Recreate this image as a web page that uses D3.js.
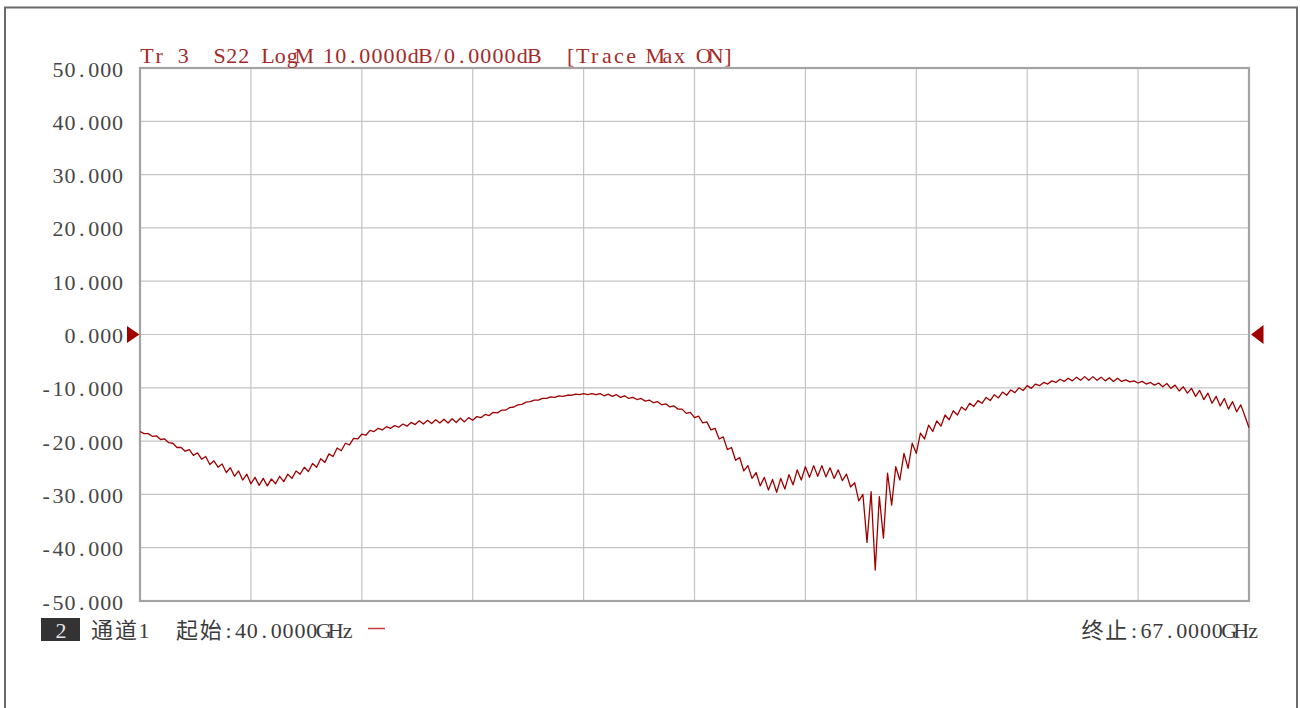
<!DOCTYPE html>
<html>
<head>
<meta charset="utf-8">
<script src="https://cdn.jsdelivr.net/npm/d3@7"></script>
<style>
  html, body { margin: 0; padding: 0; background: #fff; }
  svg { display: block; }
  text { white-space: pre; }
</style>
</head>
<body>
<svg id="chart" width="1300" height="708"></svg>
<script>
// ---------------- DATA ----------------
const startGHz = 40.0;
const stopGHz = 67.0;
// S22 LogM trace (dB), uniform sweep from startGHz to stopGHz, 0.1 GHz steps
const s22dB = [
  -18.2,-18.6,-18.6,-19.1,-19.0,-19.7,-19.6,-20.3,-20.4,-21.2,
  -21.2,-21.9,-21.6,-22.7,-22.2,-23.4,-22.9,-24.4,-23.7,-24.9,
  -24.3,-25.9,-25.0,-26.6,-25.6,-27.3,-26.2,-28.0,-26.8,-28.3,
  -27.0,-28.4,-27.1,-28.0,-26.6,-27.6,-26.2,-27.0,-25.6,-26.2,
  -24.9,-25.7,-24.2,-24.9,-23.3,-24.0,-22.4,-22.9,-21.3,-21.8,
  -20.4,-20.7,-19.5,-19.6,-18.7,-18.9,-18.0,-18.2,-17.6,-17.9,
  -17.3,-17.6,-17.1,-17.4,-16.8,-17.2,-16.5,-16.9,-16.2,-16.8,
  -16.1,-16.7,-16.0,-16.6,-15.9,-16.6,-15.8,-16.5,-15.7,-16.4,
  -15.6,-16.1,-15.4,-15.6,-15.0,-15.2,-14.6,-14.7,-14.2,-14.2,
  -13.7,-13.6,-13.2,-13.1,-12.7,-12.6,-12.3,-12.3,-12.0,-12.0,
  -11.7,-11.8,-11.5,-11.6,-11.4,-11.4,-11.2,-11.3,-11.1,-11.3,
  -11.1,-11.3,-11.1,-11.5,-11.2,-11.6,-11.3,-11.8,-11.5,-12.0,
  -11.8,-12.2,-12.0,-12.5,-12.3,-12.8,-12.6,-13.2,-13.0,-13.6,
  -13.4,-14.0,-14.0,-14.8,-14.6,-15.6,-15.3,-16.6,-16.4,-17.9,
  -17.6,-19.6,-19.2,-21.6,-21.2,-23.6,-23.1,-25.6,-24.6,-27.0,
  -25.9,-28.4,-26.8,-29.2,-27.2,-29.6,-27.0,-29.0,-26.3,-28.2,
  -25.4,-27.3,-24.8,-26.8,-24.6,-26.6,-24.6,-26.7,-25.0,-27.0,
  -25.4,-27.4,-26.2,-28.6,-27.8,-31.2,-30.0,-39.0,-29.5,-44.2,
  -30.4,-38.2,-26.0,-32.0,-24.8,-27.3,-22.3,-25.1,-20.4,-22.3,
  -18.5,-19.6,-17.0,-18.2,-16.2,-17.2,-15.1,-16.0,-14.3,-15.1,
  -13.6,-14.2,-12.9,-13.5,-12.4,-12.9,-11.8,-12.4,-11.3,-11.9,
  -10.8,-11.4,-10.4,-10.9,-10.0,-10.5,-9.6,-10.1,-9.3,-9.6,
  -9.0,-9.3,-8.7,-9.0,-8.4,-8.8,-8.2,-8.7,-8.0,-8.6,
  -7.9,-8.6,-7.9,-8.6,-8.0,-8.7,-8.1,-8.8,-8.2,-8.8,
  -8.5,-8.9,-8.7,-9.1,-8.8,-9.3,-9.0,-9.5,-9.1,-9.8,
  -9.2,-10.1,-9.5,-10.6,-9.8,-11.0,-10.1,-11.6,-10.5,-12.2,
  -11.0,-12.9,-11.6,-13.4,-12.0,-14.0,-12.6,-14.5,-13.2,-15.3,
  -17.5
];
const yTickValues = [50, 40, 30, 20, 10, 0, -10, -20, -30, -40, -50];
const yTickLabels = ["50.000","40.000","30.000","20.000","10.000","0.000",
                     "-10.000","-20.000","-30.000","-40.000","-50.000"];
const xDivisions = 10;
const referenceLevel = 0;
const headerText = "Tr 3  S22 LogM 10.0000dB/0.0000dB  [Trace Max ON]";
const channelNum = "2";
const channelText = "通道1";
const startText = "起始:40.0000GHz";
const stopText = "终止:67.0000GHz";

// ---------------- LAYOUT ----------------
const svg = d3.select("#chart");
const plot = { left: 140, right: 1249, top: 68, bottom: 601 };
const x = d3.scaleLinear().domain([startGHz, stopGHz]).range([plot.left, plot.right]);
const y = d3.scaleLinear().domain([-50, 50]).range([plot.bottom, plot.top]);

const FONT = "'Liberation Serif', 'Noto Sans CJK SC', serif";
const FS = 22;

// monospace-like text: each half-width char gets one cell, CJK gets two
function monoText(parent, str, x0, baseline, cell, color, alignRight) {
  const chars = Array.from(str);
  const widths = chars.map(c => /[\u2E80-\u9FFF\uFF00-\uFFEF]/.test(c) ? 2 : 1);
  const total = d3.sum(widths) * cell;
  const start = alignRight ? x0 - total : x0;
  let pos = 0;
  const xs = chars.map((c, i) => { const cx = start + (pos + widths[i] / 2) * cell; pos += widths[i]; return cx.toFixed(2); });
  return parent.append("text")
    .attr("x", xs.join(" "))
    .attr("y", baseline)
    .attr("text-anchor", "middle")
    .attr("font-family", FONT)
    .attr("font-size", FS)
    .attr("fill", color)
    .text(str);
}

// outer window border
svg.append("path")
  .attr("d", "M5,708 L5,7.5 L1297,7.5 L1297,708")
  .attr("fill", "none").attr("stroke", "#6b6b6b").attr("stroke-width", 2);

// grid
const gGrid = svg.append("g");
const xGridVals = d3.range(1, xDivisions).map(i => startGHz + i * (stopGHz - startGHz) / xDivisions);
gGrid.selectAll("line.vx").data(xGridVals).enter().append("line")
  .attr("x1", d => x(d)).attr("x2", d => x(d))
  .attr("y1", plot.top).attr("y2", plot.bottom)
  .attr("stroke", "#c4c4c4").attr("stroke-width", 1.2);
gGrid.selectAll("line.hy").data(yTickValues.slice(1, -1)).enter().append("line")
  .attr("x1", plot.left).attr("x2", plot.right)
  .attr("y1", d => y(d)).attr("y2", d => y(d))
  .attr("stroke", "#c4c4c4").attr("stroke-width", 1.2);

// frame
svg.append("rect")
  .attr("x", plot.left).attr("y", plot.top)
  .attr("width", plot.right - plot.left).attr("height", plot.bottom - plot.top)
  .attr("fill", "none").attr("stroke", "#a3a3a3").attr("stroke-width", 2.2);

// y tick labels
yTickValues.forEach((v, i) => {
  monoText(svg, yTickLabels[i], 123.5, y(v) + 8.5, 11.9, "#464646", true);
});

// header
monoText(svg, headerText, 141, 63, 12.1, "#a52a2a", false);

// trace
const line = d3.line()
  .x((d, i) => x(startGHz + i * (stopGHz - startGHz) / (s22dB.length - 1)))
  .y(d => y(d));
svg.append("path")
  .datum(s22dB)
  .attr("d", line)
  .attr("fill", "none")
  .attr("stroke", "#9e0000")
  .attr("stroke-width", 1.3)
  .attr("stroke-linejoin", "round");

// reference markers
const ry = y(referenceLevel);
svg.append("path")
  .attr("d", `M127,${ry - 8.5} L139.5,${ry} L127,${ry + 8.5} Z`)
  .attr("fill", "#a00000");
svg.append("path")
  .attr("d", `M1263.5,${ry - 9.5} L1251,${ry} L1263.5,${ry + 9.5} Z`)
  .attr("fill", "#a00000");

// bottom status
svg.append("rect").attr("x", 41).attr("y", 618).attr("width", 39).attr("height", 23).attr("fill", "#333");
monoText(svg, channelNum, 55, 638, 12, "#e6e6e6", false);
monoText(svg, channelText, 90, 638, 12, "#3c3c3c", false);
monoText(svg, startText, 175, 638, 11.9, "#3c3c3c", false);
svg.append("line").attr("x1", 368).attr("x2", 385).attr("y1", 628.5).attr("y2", 628.5)
  .attr("stroke", "#c83a3a").attr("stroke-width", 1.5);
monoText(svg, stopText, 1259, 638, 11.9, "#3c3c3c", true);
</script>
</body>
</html>
